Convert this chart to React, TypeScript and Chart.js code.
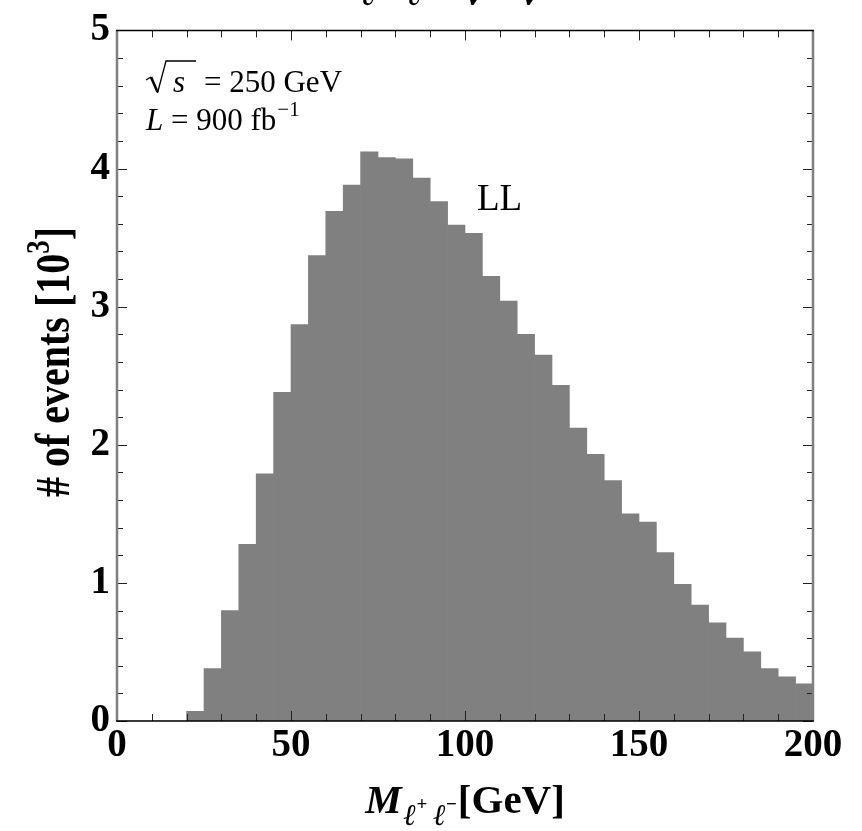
import React, { useEffect, useRef } from "react";
import { Chart, registerables } from "chart.js";

Chart.register(...registerables);

// Bin lower edges [GeV], bin width 5 GeV
const binLow = [
  0, 5, 10, 15, 20, 25, 30, 35, 40, 45, 50, 55, 60, 65, 70, 75, 80, 85, 90, 95,
  100, 105, 110, 115, 120, 125, 130, 135, 140, 145, 150, 155, 160, 165, 170, 175,
  180, 185, 190, 195,
];
const binWidth = 5;
// Number of events [10^3]
const events = [
  0, 0, 0, 0, 0.07, 0.38, 0.8, 1.28, 1.79, 2.38, 2.87, 3.37, 3.69, 3.88, 4.12,
  4.08, 4.07, 3.93, 3.76, 3.59, 3.53, 3.22, 3.04, 2.8, 2.65, 2.43, 2.12, 1.93,
  1.74, 1.5, 1.44, 1.22, 0.99, 0.84, 0.71, 0.6, 0.5, 0.38, 0.32, 0.27,
];
const xTickLabels = [0, 50, 100, 150, 200];
const yTickLabels = [0, 1, 2, 3, 4, 5];

const SERIF = "'Liberation Serif', 'DejaVu Serif', serif";

const decorPlugin = {
  id: "decor",
  afterDraw(chart: any) {
    const { ctx, chartArea: ca } = chart;
    const xs = chart.scales.x;
    const ys = chart.scales.y;
    ctx.save();

    // tick marks (inward, all four sides)
    ctx.strokeStyle = "#222";
    ctx.lineWidth = 1;
    ctx.beginPath();
    for (let v = 0; v <= 200; v += 10) {
      const px = Math.round(xs.getPixelForValue(v)) + 0.5;
      const len = v % 50 === 0 ? 10 : 7;
      ctx.moveTo(px, ca.bottom);
      ctx.lineTo(px, ca.bottom - len);
      ctx.moveTo(px, ca.top);
      ctx.lineTo(px, ca.top + len);
    }
    for (let i = 0; i <= 25; i++) {
      const v = i / 5;
      const py = Math.round(ys.getPixelForValue(v)) + 0.5;
      const len = i % 5 === 0 ? 10 : 6;
      ctx.moveTo(ca.left, py);
      ctx.lineTo(ca.left + len, py);
      ctx.moveTo(ca.right, py);
      ctx.lineTo(ca.right - len, py);
    }
    ctx.stroke();

    // frame
    ctx.strokeStyle = "#808080";
    ctx.lineWidth = 2.5;
    ctx.beginPath();
    ctx.moveTo(ca.left, ca.top);
    ctx.lineTo(ca.left, ca.bottom);
    ctx.moveTo(ca.right, ca.top);
    ctx.lineTo(ca.right, ca.bottom);
    ctx.stroke();
    ctx.strokeStyle = "#000";
    ctx.lineWidth = 1.5;
    ctx.beginPath();
    ctx.moveTo(ca.left - 1, ca.top);
    ctx.lineTo(ca.right + 1, ca.top);
    ctx.moveTo(ca.left - 1, ca.bottom);
    ctx.lineTo(ca.right + 1, ca.bottom);
    ctx.stroke();

    ctx.fillStyle = "#000";
    ctx.textAlign = "left";
    ctx.textBaseline = "alphabetic";

    // clipped title at the very top
    ctx.font = `bold italic 38px ${SERIF}`;
    ctx.fillText("ℓ", 360, 5);
    ctx.fillText("ℓ", 406, 5);
    ctx.fillText("ν", 466, 5);
    ctx.fillText("ν", 522, 5);

    // sqrt(s) = 250 GeV
    const fs = 31;
    const b1 = 92;
    ctx.lineWidth = 1.4;
    ctx.lineJoin = "miter";
    ctx.beginPath();
    ctx.moveTo(146, 80);
    ctx.lineTo(151, 77);
    ctx.stroke();
    ctx.lineWidth = 2.6;
    ctx.beginPath();
    ctx.moveTo(151, 77);
    ctx.lineTo(157.5, 92);
    ctx.stroke();
    ctx.lineWidth = 1.3;
    ctx.beginPath();
    ctx.moveTo(157.5, 93);
    ctx.lineTo(166, 61);
    ctx.lineTo(196, 61);
    ctx.stroke();
    ctx.font = `italic ${fs}px ${SERIF}`;
    ctx.fillText("s", 173, b1);
    ctx.font = `${fs}px ${SERIF}`;
    ctx.fillText("= 250 GeV", 204, b1);

    // L = 900 fb^-1
    const b2 = 130;
    ctx.font = `italic ${fs}px ${SERIF}`;
    ctx.fillText("L", 146, b2);
    const lW = ctx.measureText("L").width;
    ctx.font = `${fs}px ${SERIF}`;
    const main2 = " = 900 fb";
    ctx.fillText(main2, 146 + lW, b2);
    const m2W = ctx.measureText(main2).width;
    ctx.font = `${Math.round(fs * 0.68)}px ${SERIF}`;
    ctx.fillText("−1", 146 + lW + m2W + 1, b2 - 14);

    // LL label
    ctx.font = `37px ${SERIF}`;
    ctx.fillText("LL", 477, 210);

    // x-axis title: M_{l+ l-}[GeV]
    const bigF = 41;
    const subF = 30;
    const supF = 19;
    const xb = 813;
    ctx.font = `bold italic ${bigF}px ${SERIF}`;
    const mW = ctx.measureText("M").width;
    ctx.font = `bold italic ${subF}px ${SERIF}`;
    const ellW = ctx.measureText("ℓ").width;
    ctx.font = `bold ${supF}px ${SERIF}`;
    const plW = ctx.measureText("+").width;
    const miW = ctx.measureText("−").width;
    ctx.font = `bold ${bigF}px ${SERIF}`;
    const gW = ctx.measureText("[GeV]").width;
    const totalW = mW + 2 + ellW + plW + 6 + ellW + miW + 1 + gW;
    let cx = (ca.left + ca.right) / 2 - totalW / 2;
    ctx.font = `bold italic ${bigF}px ${SERIF}`;
    ctx.fillText("M", cx, xb);
    cx += mW + 2;
    ctx.font = `bold italic ${subF}px ${SERIF}`;
    ctx.fillText("ℓ", cx, xb + 12);
    cx += ellW;
    ctx.font = `bold ${supF}px ${SERIF}`;
    ctx.fillText("+", cx, xb - 3);
    cx += plW + 6;
    ctx.font = `bold italic ${subF}px ${SERIF}`;
    ctx.fillText("ℓ", cx, xb + 12);
    cx += ellW;
    ctx.font = `bold ${supF}px ${SERIF}`;
    ctx.fillText("−", cx, xb - 3);
    cx += miW + 1;
    ctx.font = `bold ${bigF}px ${SERIF}`;
    ctx.fillText("[GeV]", cx, xb);

    // y-axis title: # of events [10^3]
    const yF = 40;
    const ySupF = 27;
    const vs = 1.22;
    ctx.font = `bold ${yF}px ${SERIF}`;
    const t1 = "# of events [10";
    const t1W = ctx.measureText(t1).width;
    const t3W = ctx.measureText("]").width;
    ctx.font = `bold ${ySupF}px ${SERIF}`;
    const t2W = ctx.measureText("3").width;
    const yTot = t1W + t2W + t3W;
    ctx.translate(69, 362);
    ctx.rotate(-Math.PI / 2);
    ctx.scale(1, vs);
    let ty = -yTot / 2;
    ctx.font = `bold ${yF}px ${SERIF}`;
    ctx.fillText(t1, ty, 0);
    ty += t1W;
    ctx.font = `bold ${ySupF}px ${SERIF}`;
    ctx.fillText("3", ty, -16);
    ty += t2W;
    ctx.font = `bold ${yF}px ${SERIF}`;
    ctx.fillText("]", ty, 0);

    ctx.restore();
  },
};

export default function App() {
  const canvasRef = useRef<HTMLCanvasElement | null>(null);

  useEffect(() => {
    const canvas = canvasRef.current;
    if (!canvas) return;
    const tickFont = { family: SERIF, size: 39, weight: "bold" as const };
    const chart = new Chart(canvas, {
      type: "bar",
      data: {
        datasets: [
          {
            data: binLow.map((lo, i) => ({ x: lo + binWidth / 2, y: events[i] })),
            backgroundColor: "#808080",
            borderWidth: 0,
            barPercentage: 1,
            categoryPercentage: 1,
            grouped: false,
          } as any,
        ],
      },
      options: {
        animation: false,
        responsive: false,
        devicePixelRatio: 1,
        layout: { padding: { top: 27, right: 49, left: 0, bottom: 0 } },
        plugins: {
          legend: { display: false },
          tooltip: { enabled: false },
          title: { display: false },
        },
        scales: {
          x: {
            type: "linear",
            min: 0,
            max: 200,
            offset: false,
            grid: { display: false, drawTicks: false },
            border: { display: false },
            afterBuildTicks: (s: any) => {
              s.ticks = xTickLabels.map((v) => ({ value: v }));
            },
            ticks: {
              font: tickFont,
              color: "#000",
              padding: 2,
              maxRotation: 0,
              autoSkip: false,
            },
            afterFit: (s: any) => {
              s.height = 110;
            },
          },
          y: {
            type: "linear",
            min: 0,
            max: 5,
            grid: { display: false, drawTicks: false },
            border: { display: false },
            afterBuildTicks: (s: any) => {
              s.ticks = yTickLabels.map((v) => ({ value: v }));
            },
            ticks: {
              font: tickFont,
              color: "#000",
              padding: 7,
            },
            afterFit: (s: any) => {
              s.width = 117;
            },
          },
        },
      },
      plugins: [decorPlugin],
    });
    return () => chart.destroy();
  }, []);

  return (
    <div
      style={{
        position: "absolute",
        left: 0,
        top: 0,
        width: 862,
        height: 831,
        background: "#fff",
      }}
    >
      <canvas ref={canvasRef} width={862} height={831} />
    </div>
  );
}
